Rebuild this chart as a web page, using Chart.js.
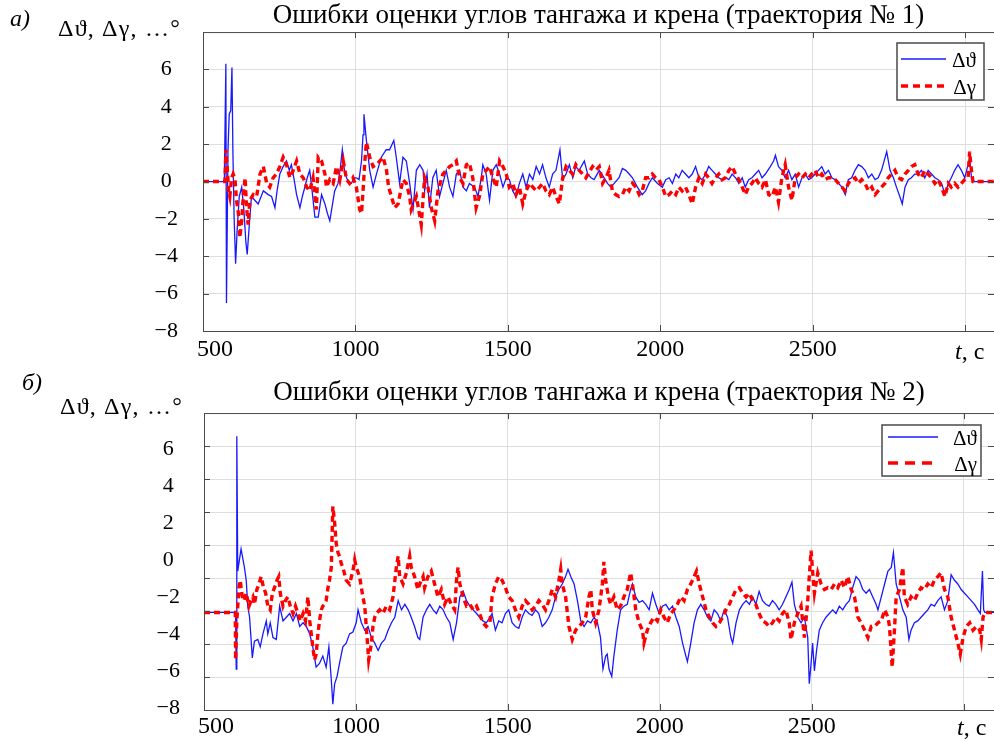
<!DOCTYPE html>
<html>
<head>
<meta charset="utf-8">
<script src="https://cdn.jsdelivr.net/npm/chart.js@4.4.1/dist/chart.umd.min.js"></script>
<style>
  html, body { margin: 0; padding: 0; background: #fff; }
  body { width: 994px; height: 742px; position: relative; overflow: hidden; }
  canvas { position: absolute; left: 0; display: block; }
  #c1 { top: 0; }
  #c2 { top: 370px; }
</style>
</head>
<body>
<canvas id="c1" width="994" height="370"></canvas>
<canvas id="c2" width="994" height="372"></canvas>
<script>
// ---------------- DATA ----------------
const titles = [
  'Ошибки оценки углов тангажа и крена (траектория № 1)',
  'Ошибки оценки углов тангажа и крена (траектория № 2)'
];
const seriesLabels = ['Δϑ', 'Δγ'];
const panelLetters = ['а)', 'б)'];
const yAxisTitle = 'Δϑ, Δγ, …°';
const xAxisName = ['t', ', с'];
const xTicks = [500, 1000, 1500, 2000, 2500, 3000];
const yTicks = [-8, -6, -4, -2, 0, 2, 4, 6];
const yGridLines2 = [-8, -6, -4, -2, 0, 2, 4, 6];

// Trajectory 1, pitch error Δϑ
const timeTheta1 = [
  500,570,575,577,582,586,591,595,598,602,
  607,612,619,627,634,641,645,652,659,670,
  681,698,714,725,736,743,752,763,774,783,
  790,799,807,818,826,834,842,850,858,867,
  878,889,900,908,916,925,932,943,951,957,
  964,971,979,987,995,1003,1012,1020,1025,1028,
  1036,1047,1058,1069,1085,1101,1112,1126,1134,1145,
  1156,1167,1178,1189,1200,1211,1222,1227,1235,1243,
  1254,1265,1276,1287,1298,1309,1320,1331,1342,1353,
  1364,1374,1391,1402,1413,1418,1429,1440,
  1451,1462,1473,1484,1495,1505,1516,1527,1538,1549,
  1560,1571,1582,1593,1604,1614,1625,1636,1647,1658,
  1671,1680,1691,1702,1713,1723,1734,1751,1762,1773,
  1783,1800,1816,1827,1838,1849,1865,1876,1887,1898,
  1909,1925,1941,1952,1963,1974,1991,2007,2018,2029,
  2040,2051,2061,2072,2083,2094,2105,2116,2127,2138,
  2149,2159,2170,2181,2192,2203,2214,2225,2236,2247,
  2258,2269,2279,2290,2301,2312,2323,2334,2345,2361,
  2372,2378,2388,2399,2410,2421,2432,2443,2454,2465,
  2476,2487,2497,2508,2519,2530,2541,2552,2563,2574,
  2585,2596,2607,2617,2628,2639,2650,2661,2672,2683,
  2694,2705,2715,2726,2743,2754,2765,2775,2786,2794,
  2803,2814,2824,2835,2846,2857,2868,2879,2890,2901,
  2912,2923,2934,2945,2955,2966,2977,2988,2999,3010,
  3015,3021,3026,3100
];
const dTheta1 = [
  0,0,6.3,-6.5,1.7,3.6,3.8,6.1,1.7,-1.9,
  -4.4,-2.6,-0.8,-0.3,-1.5,-3.3,-3.9,-2.3,-0.8,-1.0,
  -1.2,-0.5,-0.7,-0.8,-1.4,-0.5,0.4,0.8,1.1,0.6,
  0.9,0.1,-0.7,-1.4,-0.8,-0.3,0.2,0.6,-0.5,-1.9,
  -1.9,-0.7,-1.2,-1.7,-2.1,-1.2,-0.5,-0.1,0.8,1.7,
  0.6,0.2,-0.1,-0.1,0.2,0.2,0.1,1.1,2.5,3.6,
  2.2,0.6,-0.3,0.4,1.3,1.7,1.7,2.2,1.3,-0.1,
  1.3,1.1,-0.1,-1.5,0.6,0.9,0.6,-0.5,0.4,-1.4,
  0.2,0.6,-0.8,-0.1,0.6,-0.3,-0.8,0.4,0.6,-0.3,
  -0.5,-0.1,-0.3,-0.8,0.2,0.9,0.4,-1.0,
  0.6,0.9,0.4,-0.3,0.2,0.1,-0.5,-0.8,-0.1,0.4,
  -0.3,0.4,0.1,0.8,0.4,0.9,0.2,-0.3,0.4,0.6,
  1.7,0.1,0.4,0.9,0.2,0.8,0.6,1.1,0.4,0.2,
  0.1,0.6,0.2,-0.1,-0.3,-0.1,0.2,0.7,0.6,0.4,
  0.2,-0.3,-0.7,-0.5,-0.1,0.2,-0.1,-0.3,0.1,0.2,
  -0.1,0.4,0.2,0.6,0.4,0.2,0.4,0.8,0.2,0.1,
  0.4,0.8,0.6,0.4,0.2,0.1,0.2,0.1,0.4,0.2,
  -0.1,0.2,-0.3,0.1,0.2,0.4,0.6,0.2,0.4,0.8,
  1.1,1.4,0.8,0.6,0.2,0.6,0.1,0.4,-0.3,0.2,
  0.4,0.1,0.2,0.4,0.6,0.8,0.4,0.6,0.2,0.1,
  -0.1,-0.3,-0.7,0.1,0.2,0.6,0.9,0.8,0.6,0.2,
  0.4,0.1,0.2,0.6,1.6,0.6,0.2,-0.3,-0.8,-1.2,
  -0.3,0.1,0.2,0.4,0.4,0.6,0.2,0.6,0.4,0.2,
  0.1,-0.1,-0.7,-0.1,0.2,0.6,0.9,0.6,0.2,0.9,
  1.3,0.2,0,0
];

// Trajectory 1, roll error Δγ
const timeGamma1 = [
  500,572,575,580,584,588,594,599,605,610,
  616,621,627,632,638,643,648,654,665,676,
  687,698,709,719,730,741,752,763,774,785,
  796,807,818,829,840,850,861,872,878,889,
  900,905,916,927,938,949,960,971,981,992,
  1003,1014,1020,1025,1031,1036,1047,1058,1069,1080,
  1091,1102,1109,1118,1129,1140,1156,1167,1178,1183,
  1200,1216,1227,1238,1249,1260,1271,1287,1298,1309,
  1320,1331,1342,1353,1364,1374,1385,1396,1407,1418,
  1429,1440,1451,1462,1473,1484,1495,1505,1516,1527,
  1538,1549,1560,1571,1582,1593,1604,1614,1625,1636,
  1647,1658,1669,1680,1691,1702,1713,1723,1734,1745,
  1756,1767,1778,1789,1800,1811,1822,1832,1843,1854,
  1865,1876,1887,1898,1909,1920,1931,1941,1952,1963,
  1974,1985,1996,2007,2018,2029,2040,2051,2061,2072,
  2083,2094,2105,2116,2127,2138,2149,2159,2170,2181,
  2192,2203,2214,2225,2236,2247,2258,2269,2279,2290,
  2301,2312,2323,2334,2345,2356,2367,2378,2388,2399,
  2410,2421,2432,2443,2454,2465,2476,2487,2497,2508,
  2519,2530,2541,2552,2563,2574,2585,2596,2607,2617,
  2628,2639,2650,2661,2672,2683,2694,2705,2715,2726,
  2737,2748,2759,2770,2781,2792,2803,2814,2824,2835,
  2846,2857,2868,2879,2890,2901,2912,2923,2934,2945,
  2955,2966,2977,2988,2999,3010,3015,3021,3026,3100
];
const dGamma1 = [
  0,0,1.7,0.6,-0.5,-0.8,0.2,0.4,0.1,-1.0,
  -1.7,-3.0,-2.1,-0.8,0.2,-1.4,-2.3,-1.0,-0.7,-0.8,
  0.4,0.8,-0.1,-0.3,0.2,0.4,0.8,1.3,0.9,0.2,
  0.6,1.1,0.4,0.2,-0.3,-0.5,0.2,-1.5,1.3,1.1,
  0.4,-0.3,0.1,-0.1,0.8,0.1,1.1,0.1,-0.1,0.2,
  -0.3,-1.5,-1.7,-0.5,1.1,2.1,1.3,0.8,0.9,1.1,
  1.3,0.6,-0.3,-0.8,-1.4,-1.2,0.1,-0.1,-0.8,-1.5,
  -0.8,-2.3,0.2,-0.3,-1.4,-2.1,-0.5,0.4,0.6,0.8,
  0.9,1.1,0.2,-0.1,0.9,1.0,0.2,-1.4,-0.8,0.4,
  0.6,0.8,0.2,-0.3,1.1,0.8,0.4,-0.3,-0.1,-0.7,
  -0.3,-1.2,-0.5,-0.1,-0.3,-0.5,-0.3,-0.1,-0.5,-0.7,
  -0.3,-0.8,-1.2,0.2,0.8,0.6,0.4,0.9,0.6,0.4,
  0.2,0.5,0.8,0.6,0.8,-0.1,0.2,0.6,-0.5,-0.7,
  -0.8,-0.7,-0.3,-0.5,-0.1,-0.3,-0.7,-0.5,0.2,0.2,
  0.4,0.2,0.1,-0.3,-0.8,-0.7,-0.5,-0.7,-0.3,-0.5,
  -0.3,-0.7,-1.2,-0.3,0.2,-0.1,0.4,0.2,-0.1,0.2,
  0.4,0.1,0.2,0.6,0.8,0.4,0.1,-0.3,-0.7,-0.3,
  -0.1,0.2,-0.1,-0.3,0.1,-0.7,-0.8,-0.3,-1.1,0.2,
  0.9,-0.3,-1.0,0.2,0.4,0.2,0.4,0.2,0.4,0.6,
  0.2,0.4,0.1,0.2,0.2,0.1,-0.1,-0.3,-0.5,-0.1,
  0.1,0.2,-0.1,0.1,-0.1,-0.5,-0.3,-0.7,-0.5,-0.3,
  -0.1,0.2,0.4,0.6,0.2,0.1,0.4,0.6,0.8,0.9,
  0.4,0.2,0.6,0.4,0.2,-0.1,0.1,-0.3,-0.8,-0.1,
  -0.3,-0.1,-0.3,-0.1,0.1,0.2,1.6,0.6,0,0
];

// Trajectory 2, pitch error Δϑ
const timeTheta2 = [
  500,604,606,608,611,622,633,639,644,650,
  659,666,677,685,694,705,710,718,727,738,
  749,760,771,782,793,804,815,826,837,848,
  858,869,880,891,902,911,919,924,930,938,
  946,957,968,979,990,1001,1007,1018,1029,1040,
  1051,1062,1073,1084,1095,1106,1117,1128,1139,1150,
  1161,1172,1182,1193,1204,1210,1221,1232,1243,1254,
  1265,1276,1287,1298,1309,1320,1331,1342,1353,1364,
  1375,1386,1397,1407,1418,1429,1441,1448,1459,1470,
  1481,1492,1503,1514,1525,1536,1547,1558,1569,1580,
  1591,1602,1613,1624,1635,1646,1657,1668,1679,1690,
  1698,1707,1718,1729,1740,1751,1762,1773,1784,1795,
  1805,1813,1822,1827,1833,1842,1849,1860,1871,1882,
  1893,1904,1910,1921,1932,1943,1954,1965,1976,1987,
  1998,2009,2020,2031,2042,2053,2064,2075,2086,2091,
  2102,2113,2124,2135,2146,2157,2168,2179,2190,2201,
  2212,2223,2234,2240,2251,2262,2273,2284,2295,2306,
  2316,2327,2338,2349,2360,2371,2382,2393,2404,2415,
  2426,2435,2443,2454,2465,2476,2487,2492,2498,2503,
  2509,2516,2525,2536,2547,2558,2569,2580,2591,2602,
  2613,2624,2635,2646,2657,2668,2679,2690,2701,2712,
  2718,2729,2740,2751,2762,2769,2778,2789,2800,2811,
  2820,2827,2838,2849,2860,2871,2882,2893,2904,2915,
  2926,2937,2948,2959,2970,2981,2992,3003,3014,3025,
  3036,3047,3055,3062,3066,3070,3100
];
const dTheta2 = [
  -2.84,-2.84,-5.9,6.7,-0.6,0.6,-0.4,-1.1,-2.5,-3.1,
  -5.3,-4.4,-4.3,-4.7,-4.0,-3.3,-4.0,-3.4,-4.2,-4.3,
  -2.5,-3.3,-3.1,-2.9,-3.3,-2.9,-3.6,-3.4,-3.6,-4.0,
  -4.7,-5.8,-5.6,-5.2,-5.8,-4.7,-6.5,-7.8,-6.7,-6.3,
  -5.6,-4.7,-4.5,-4.0,-3.9,-3.4,-2.7,-3.4,-3.8,-3.6,
  -4.2,-4.5,-4.9,-4.5,-4.3,-3.8,-3.4,-3.1,-2.2,-2.7,
  -2.4,-2.7,-3.1,-3.6,-4.2,-4.3,-3.1,-2.7,-2.4,-2.7,
  -2.9,-2.5,-2.7,-3.1,-3.4,-4.3,-3.4,-2.0,-1.7,-2.2,
  -2.5,-2.7,-2.9,-3.1,-3.3,-3.4,-3.1,-2.9,-3.8,-3.3,
  -3.4,-2.9,-2.7,-3.4,-3.6,-3.7,-3.1,-2.7,-2.9,-3.0,
  -2.7,-2.9,-3.6,-3.4,-3.1,-2.7,-2.0,-1.6,-1.3,-0.9,
  -0.5,-0.9,-1.3,-2.2,-3.3,-3.6,-3.3,-3.4,-3.1,-3.4,
  -4.2,-5.9,-5.2,-5.1,-5.9,-6.3,-5.2,-3.8,-2.7,-2.5,
  -2.4,-1.6,-1.3,-2.0,-2.3,-2.2,-2.4,-2.7,-1.8,-2.4,
  -2.9,-2.5,-2.4,-2.7,-2.5,-3.1,-3.6,-4.5,-5.2,-5.5,
  -4.5,-3.4,-2.7,-2.4,-2.7,-3.1,-3.3,-2.7,-2.9,-3.3,
  -2.7,-3.1,-4.2,-4.5,-3.4,-2.7,-2.4,-2.2,-2.4,-2.0,
  -2.4,-1.7,-2.2,-2.4,-2.5,-2.2,-2.4,-2.7,-2.4,-2.0,
  -1.6,-1.2,-2.4,-3.1,-3.4,-3.1,-4.2,-6.7,-5.6,-4.5,
  -6.0,-4.9,-3.8,-3.4,-3.1,-2.9,-2.7,-2.9,-2.5,-2.7,
  -2.4,-2.2,-1.5,-0.9,-1.1,-1.6,-1.8,-1.6,-2.0,-2.4,
  -2.7,-2.0,-1.3,-0.6,-0.4,0.4,-1.3,-2.0,-2.7,-3.1,
  -4.3,-3.8,-3.4,-3.3,-3.1,-2.9,-2.7,-2.4,-2.5,-2.2,
  -2.0,-2.7,-2.2,-0.8,-1.1,-1.3,-1.6,-1.8,-2.0,-2.2,
  -2.4,-2.7,-2.9,-0.6,-2.7,-2.84,-2.84
];

// Trajectory 2, roll error Δγ
const timeGamma2 = [
  500,603,604,608,615,619,626,631,639,648,
  655,661,666,674,681,688,696,703,710,718,
  725,732,740,746,751,760,768,776,784,793,
  801,809,817,826,834,842,848,853,858,864,
  869,875,880,886,891,897,902,908,913,919,
  924,930,935,941,946,952,957,968,979,990,
  996,1001,1012,1023,1029,1034,1042,1051,1056,1062,
  1067,1078,1089,1100,1111,1122,1133,1139,1144,1155,
  1166,1177,1182,1193,1204,1210,1221,1226,1237,1248,
  1259,1270,1281,1292,1303,1314,1325,1331,1336,1342,
  1353,1364,1375,1386,1397,1407,1418,1429,1441,1448,
  1459,1470,1481,1492,1503,1514,1525,1536,1547,1558,
  1569,1580,1591,1602,1613,1624,1635,1646,1657,1668,
  1674,1679,1690,1701,1712,1723,1734,1745,1756,1767,
  1773,1778,1789,1800,1811,1816,1822,1831,1838,1849,
  1860,1871,1882,1893,1904,1910,1921,1932,1943,1948,
  1959,1970,1981,1992,2003,2014,2025,2036,2047,2058,
  2069,2080,2091,2102,2113,2121,2130,2141,2152,2163,
  2174,2185,2196,2207,2218,2229,2240,2251,2262,2273,
  2284,2295,2306,2316,2327,2338,2349,2360,2371,2382,
  2393,2404,2415,2426,2432,2443,2454,2465,2476,2487,
  2492,2498,2503,2509,2520,2531,2542,2553,2564,2575,
  2586,2597,2608,2619,2630,2641,2652,2663,2674,2685,
  2696,2707,2718,2729,2740,2751,2756,2765,2773,2778,
  2789,2800,2805,2816,2827,2838,2849,2860,2871,2882,
  2893,2904,2915,2926,2937,2948,2959,2970,2981,2989,
  2998,3009,3020,3031,3042,3053,3058,3064,3070,3100
];
const dGamma2 = [
  -2.84,-2.84,-5.4,-3.3,-1.5,-1.1,-2.0,-2.2,-1.8,-2.5,
  -2.2,-2.0,-2.4,-1.6,-1.3,-0.9,-1.5,-1.8,-2.5,-2.7,
  -1.8,-1.5,-1.1,-0.9,-1.8,-2.5,-2.2,-2.0,-2.5,-2.9,
  -2.5,-2.9,-3.3,-2.9,-3.3,-2.0,-3.3,-4.0,-4.7,-5.4,
  -5.1,-4.0,-3.3,-2.7,-2.5,-2.4,-2.2,-1.5,-1.1,-0.4,
  2.9,2.0,0.9,0.4,0.2,-0.2,-0.4,-1.1,-1.3,-0.6,
  0.0,-0.4,-0.9,-2.0,-2.5,-3.6,-5.4,-4.5,-3.6,-3.1,
  -2.9,-2.7,-2.9,-2.5,-2.7,-2.0,-0.4,0.2,-0.9,-1.3,
  -0.7,0.2,-0.4,-0.9,-1.6,-1.3,-0.9,-1.5,-0.9,-0.6,
  -1.3,-2.0,-1.6,-2.4,-2.0,-2.4,-2.7,-1.1,-0.4,-1.3,
  -2.0,-2.5,-2.4,-2.7,-2.5,-2.9,-3.4,-3.6,-3.4,-2.0,
  -1.3,-0.9,-1.1,-1.5,-2.0,-2.2,-2.7,-3.1,-2.5,-2.2,
  -2.4,-2.7,-2.5,-2.2,-2.4,-2.7,-2.2,-1.6,-2.0,-1.1,
  -0.5,-1.3,-2.0,-3.6,-4.3,-3.8,-3.6,-3.4,-3.1,-2.0,
  -1.6,-2.7,-3.4,-2.7,-1.3,-0.1,-1.1,-2.0,-2.4,-2.0,
  -2.7,-2.5,-2.0,-1.6,-0.7,-1.3,-2.7,-3.4,-3.8,-4.5,
  -3.8,-3.4,-3.1,-3.3,-2.7,-3.1,-3.4,-2.9,-2.7,-2.4,
  -2.0,-2.2,-1.6,-1.3,-0.9,-0.6,-1.3,-2.0,-2.7,-3.1,
  -3.4,-3.6,-3.4,-3.1,-2.7,-2.4,-2.0,-1.6,-1.5,-1.8,
  -2.0,-1.8,-2.2,-2.4,-2.9,-3.3,-3.4,-3.6,-3.4,-3.1,
  -3.3,-2.9,-2.7,-3.4,-4.3,-3.4,-2.9,-2.5,-4.2,-2.2,
  -0.9,0.5,-0.6,-1.8,-0.7,-1.3,-1.6,-1.5,-1.6,-1.3,
  -1.5,-1.1,-1.5,-0.9,-1.6,-2.0,-3.1,-3.4,-3.8,-4.2,
  -3.6,-3.6,-3.4,-3.3,-2.7,-3.1,-3.6,-5.8,-3.6,-2.0,
  -1.6,-0.4,-2.0,-2.4,-2.0,-2.2,-1.8,-1.5,-1.6,-1.3,
  -1.5,-1.1,-0.9,-0.7,-1.6,-2.0,-3.1,-3.8,-4.5,-5.1,
  -4.2,-3.6,-3.4,-3.8,-3.6,-3.8,-4.3,-3.1,-2.84,-2.84
];

// ---------------- STYLE / HELPERS ----------------
const SERIF = '"Liberation Serif", "Times New Roman", serif';
const BLUE = 'rgb(25,25,255)';
const RED = 'rgb(255,0,0)';
const GRID = '#dedede';
const FRAME = '#4a4a4a';
const CLEAR = 'rgba(0,0,0,0)';
const fmt = v => (v < 0 ? '\u2212' + Math.abs(v) : String(v));
const pts = (ts, vs) => ts.map((t, i) => ({ x: t, y: vs[i] }));

const framePlugin = {
  id: 'frame',
  afterDatasetsDraw(chart, args, o) {
    const { ctx, chartArea: a } = chart;
    ctx.save();
    ctx.strokeStyle = FRAME;
    ctx.lineWidth = 1;
    ctx.strokeRect(a.left + 0.5, a.top + 0.5, a.right - a.left, a.bottom - a.top);
    const seg = (x1, y1, x2, y2) => { ctx.beginPath(); ctx.moveTo(x1, y1); ctx.lineTo(x2, y2); ctx.stroke(); };
    const xs = chart.scales.x;
    xs.ticks.forEach(t => {
      const px = Math.round(xs.getPixelForValue(t.value)) + 0.5;
      seg(px, a.top, px, a.top + 6);
      seg(px, a.bottom, px, a.bottom - 6);
    });
    const ys = chart.scales[o.gridAxis];
    ys.ticks.forEach(t => {
      const py = Math.round(ys.getPixelForValue(t.value)) + 0.5;
      seg(a.left, py, a.left + 6, py);
      seg(a.right, py, a.right - 6, py);
    });
    ctx.restore();
  }
};

const legendBoxPlugin = {
  id: 'legendBox',
  afterDraw(chart, args, o) {
    const ctx = chart.ctx;
    ctx.save();
    ctx.fillStyle = '#fff';
    ctx.fillRect(o.x, o.y, o.w, o.h);
    ctx.strokeStyle = FRAME;
    ctx.lineWidth = 1.5;
    ctx.strokeRect(o.x, o.y, o.w, o.h);
    chart.data.datasets.forEach((ds, i) => {
      const y = o.y + o.rows[i];
      ctx.strokeStyle = ds.borderColor;
      ctx.lineWidth = ds.borderWidth;
      ctx.setLineDash(i === 1 ? o.dash : []);
      ctx.beginPath();
      ctx.moveTo(o.x + o.line0, y);
      ctx.lineTo(o.x + o.line1, y);
      ctx.stroke();
      ctx.setLineDash([]);
      ctx.fillStyle = '#000';
      ctx.font = o.size + 'px ' + SERIF;
      ctx.textAlign = 'right';
      ctx.textBaseline = 'middle';
      ctx.fillText(ds.label, o.x + o.textRight, y + 2);
    });
    ctx.restore();
  }
};

const notesPlugin = {
  id: 'notes',
  afterDraw(chart, args, o) {
    const ctx = chart.ctx;
    ctx.save();
    ctx.fillStyle = '#000';
    ctx.textAlign = 'left';
    ctx.textBaseline = 'alphabetic';
    ctx.font = 'italic 24px ' + SERIF;
    ctx.fillText(o.panel, o.panelX, o.panelY);
    ctx.font = '24px ' + SERIF;
    if ('letterSpacing' in ctx) ctx.letterSpacing = '1.2px';
    ctx.fillText(yAxisTitle, o.yTitleX, o.yTitleY);
    if ('letterSpacing' in ctx) ctx.letterSpacing = '0px';
    ctx.font = 'italic 24px ' + SERIF;
    ctx.fillText(xAxisName[0], o.xNameX, o.xNameY);
    const w = ctx.measureText(xAxisName[0]).width;
    ctx.font = '24px ' + SERIF;
    ctx.fillText(xAxisName[1], o.xNameX + w, o.xNameY);
    ctx.restore();
  }
};

// the first label sits clear of the vertical axis, as in the reference
const xLabel = v => (v === 3000 ? '' : v === 500 ? '\u2002\u2002' + v : String(v));

function xScale(max, pad, h) {
  return {
    type: 'linear', min: 500, max: max,
    afterBuildTicks: s => { s.ticks = xTicks.map(v => ({ value: v })); },
    afterFit: s => { s.height = h; },
    ticks: {
      callback: xLabel,
      font: { family: SERIF, size: 24 }, color: '#000',
      padding: pad, maxRotation: 0, autoSkip: false
    },
    grid: { color: GRID, drawTicks: false, lineWidth: 1 },
    border: { display: false }
  };
}

function datasets(tTh, vTh, tGa, vGa) {
  return [
    { label: seriesLabels[0], data: pts(tTh, vTh), borderColor: BLUE, borderWidth: 1.3,
      pointRadius: 0, tension: 0, order: 1 },
    { label: seriesLabels[1], data: pts(tGa, vGa), borderColor: RED, borderWidth: 3.4,
      borderDash: [6, 4], pointRadius: 0, tension: 0, order: 0 }
  ];
}

const common = {
  responsive: false, animation: false, events: [],
  layout: { padding: 0 }
};

// ---------------- CHART 1 ----------------
new Chart(document.getElementById('c1'), {
  type: 'line',
  data: { datasets: datasets(timeTheta1, dTheta1, timeGamma1, dGamma1) },
  options: Object.assign({}, common, {
    plugins: {
      legend: { display: false }, tooltip: { enabled: false },
      title: { display: true, text: titles[0], fullSize: false, color: '#000',
               font: { family: SERIF, size: 27, weight: 'normal', lineHeight: 1.15 },
               padding: { top: 0, bottom: 1 } },
      frame: { gridAxis: 'y' },
      legendBox: { x: 897, y: 43, w: 87, h: 57, rows: [16, 43], line0: 4, line1: 49,
                   textRight: 79, size: 21, dash: [7, 5] },
      notes: { panel: panelLetters[0], panelX: 10, panelY: 26, yTitleX: 58, yTitleY: 36,
               xNameX: 955, xNameY: 359 }
    },
    scales: {
      x: xScale(3095, 4.6, 39),
      y: {
        type: 'linear', min: -8, max: 8,
        afterBuildTicks: s => { s.ticks = yTicks.map(v => ({ value: v })); },
        afterFit: s => { s.width = 203; },
        ticks: { callback: fmt, font: { family: SERIF, size: 22 }, color: '#000',
                 padding: 0, crossAlign: 'center', autoSkip: false },
        grid: { color: GRID, drawTicks: true, tickLength: 25, tickColor: CLEAR },
        border: { display: false }
      }
    }
  }),
  plugins: [framePlugin, legendBoxPlugin, notesPlugin]
});

// ---------------- CHART 2 ----------------
new Chart(document.getElementById('c2'), {
  type: 'line',
  data: { datasets: datasets(timeTheta2, dTheta2, timeGamma2, dGamma2) },
  options: Object.assign({}, common, {
    plugins: {
      legend: { display: false }, tooltip: { enabled: false },
      title: { display: true, text: titles[1], fullSize: false, color: '#000',
               font: { family: SERIF, size: 27, weight: 'normal', lineHeight: 1.15 },
               padding: { top: 7.5, bottom: 4.5 } },
      frame: { gridAxis: 'yg' },
      legendBox: { x: 882, y: 55, w: 99, h: 51, rows: [12, 38], line0: 6, line1: 56,
                   textRight: 95, size: 21, dash: [10, 7] },
      notes: { panel: panelLetters[1], panelX: 22, panelY: 20, yTitleX: 60, yTitleY: 44,
               xNameX: 957, xNameY: 365 }
    },
    scales: {
      x: xScale(3100, 2.1, 32),
      y: {
        type: 'linear', position: 'left', min: -8.12, max: 7.95,
        afterBuildTicks: s => { s.ticks = yTicks.map(v => ({ value: v })); },
        afterFit: s => { s.width = 204; },
        ticks: { callback: fmt, font: { family: SERIF, size: 22 }, color: '#000',
                 padding: 0, crossAlign: 'center', autoSkip: false },
        grid: { color: CLEAR, drawTicks: true, tickLength: 24, tickColor: CLEAR },
        border: { display: false }
      },
      yg: {
        type: 'linear', axis: 'y', position: 'left', min: -10, max: 8,
        afterBuildTicks: s => { s.ticks = yGridLines2.map(v => ({ value: v })); },
        afterFit: s => { s.width = 0; },
        ticks: { display: false, padding: 0 },
        grid: { color: GRID, drawTicks: false },
        border: { display: false }
      }
    }
  }),
  plugins: [framePlugin, legendBoxPlugin, notesPlugin]
});
</script>
</body>
</html>
